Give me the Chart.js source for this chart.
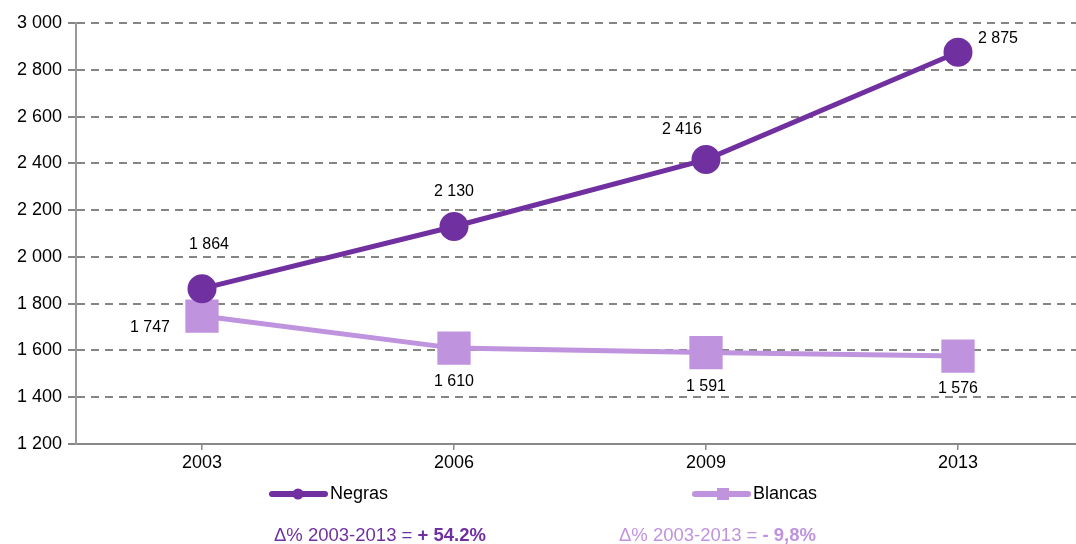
<!DOCTYPE html>
<html>
<head>
<meta charset="utf-8">
<script src="https://cdn.jsdelivr.net/npm/chart.js@4"></script>
<style>
  html, body { margin: 0; padding: 0; background: #fff; overflow: hidden; }
  #wrap { position: relative; width: 1076px; height: 544px; overflow: hidden; font-family: "Liberation Sans", Arial, sans-serif; }
  #box { position: absolute; left: 0; top: 0; width: 1084px; height: 544px; }
  .leg { position: absolute; top: 483px; font-size: 18px; color: #000; display: flex; align-items: center; }
  .leg svg { margin-right: 2px; }
  .delta { position: absolute; top: 524px; font-size: 18.5px; white-space: nowrap; }
</style>
</head>
<body>
<div id="wrap">
  <div id="box"><canvas id="chart"></canvas></div>
  <div class="leg" style="left:268px">
    <svg width="60" height="20"><line x1="4" y1="10" x2="57" y2="10" stroke="#7030A0" stroke-width="6" stroke-linecap="round"/><circle cx="30" cy="10" r="5.5" fill="#7030A0"/></svg>Negras
  </div>
  <div class="leg" style="left:691px">
    <svg width="60" height="20"><line x1="4" y1="10" x2="57" y2="10" stroke="#BF93DE" stroke-width="6" stroke-linecap="round"/><rect x="26" y="4" width="12" height="12" fill="#BF93DE"/></svg>Blancas
  </div>
  <div class="delta" style="left:274px;color:#7030A0">Δ% 2003-2013 = <b>+ 54.2%</b></div>
  <div class="delta" style="left:619px;color:#BF93DE">Δ% 2003-2013 = <b>- 9,8%</b></div>
</div>
<script>
const years = ['2003', '2006', '2009', '2013'];
const negras = [1864, 2130, 2416, 2875];
const blancas = [1747, 1610, 1591, 1576];

// where each value label sits relative to its point: [dx, dy]
const negrasLabelPos = [[7, -44], [0, -35], [-24, -30], [40, -14]];
const blancasLabelPos = [[-52, 12], [0, 33], [0, 34], [0, 33]];

const fmt = v => String(v).replace(/\B(?=(\d{3})+(?!\d))/g, ' ');

const valueLabels = {
    id: 'valueLabels',
    afterDatasetsDraw(chart) {
        const ctx = chart.ctx;
        ctx.save();
        ctx.font = '16px "Liberation Sans", Arial, sans-serif';
        ctx.fillStyle = '#000';
        ctx.textAlign = 'center';
        ctx.textBaseline = 'middle';
        [negrasLabelPos, blancasLabelPos].forEach((pos, i) => {
            const meta = chart.getDatasetMeta(i);
            meta.data.forEach((pt, j) => {
                const v = chart.data.datasets[i].data[j];
                ctx.fillText(fmt(v), pt.x + pos[j][0], pt.y + pos[j][1]);
            });
        });
        ctx.restore();
    }
};

Chart.defaults.font.family = '"Liberation Sans", Arial, sans-serif';
Chart.defaults.color = '#000';

new Chart(document.getElementById('chart').getContext('2d'), {
    type: 'line',
    data: {
        labels: years,
        datasets: [
            {
                label: 'Negras', data: negras, borderColor: '#7030A0', backgroundColor: '#7030A0',
                borderWidth: 5, pointStyle: 'circle', pointRadius: 12, pointHoverRadius: 12, fill: false
            },
            {
                label: 'Blancas', data: blancas, borderColor: '#BF93DE', backgroundColor: '#BF93DE',
                borderWidth: 5, pointStyle: 'rect', pointRadius: 20, pointHoverRadius: 20, fill: false
            }
        ]
    },
    options: {
        responsive: true,
        maintainAspectRatio: false,
        animation: false,
        events: [],
        layout: { autoPadding: false, padding: { top: 23, bottom: 70, right: 0, left: 0 } },
        plugins: { legend: { display: false }, tooltip: { enabled: false } },
        scales: {
            x: {
                offset: true,
                grid: { display: true, drawOnChartArea: false, offset: false, tickLength: 6, color: '#888', lineWidth: 1.5 },
                border: { color: '#888', width: 2 },
                ticks: { font: { size: 18 }, padding: 2 },
                afterFit: s => { s.height = 30; }
            },
            y: {
                min: 1200,
                max: 3000,
                grid: { color: '#858585', lineWidth: 2, tickLength: 8 },
                border: { color: '#999', width: 2, dash: [8, 6] },
                ticks: { stepSize: 200, font: { size: 18 }, padding: 6, callback: v => fmt(v) },
                afterFit: s => { s.width = 76; }
            }
        }
    },
    plugins: [valueLabels]
});
</script>
</body>
</html>
